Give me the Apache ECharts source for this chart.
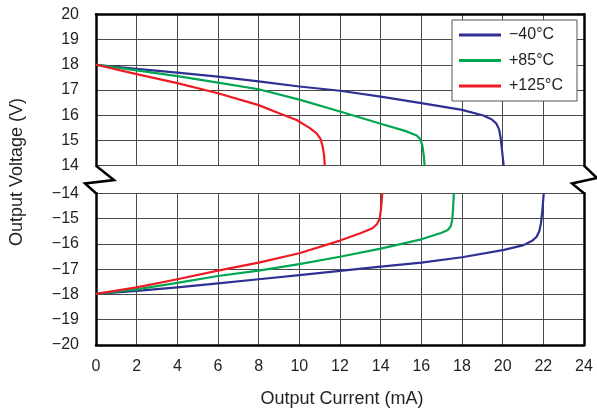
<!DOCTYPE html>
<html>
<head>
<meta charset="utf-8">
<script src="https://cdn.jsdelivr.net/npm/echarts@6/dist/echarts.min.js"></script>
<style>html,body{margin:0;padding:0;background:#fff}#c{width:597px;height:413px}</style>
</head>
<body>
<div id="c"></div>
<script>
// Series names (legend)
const seriesNames = ['\u221240\u00b0C', '+85\u00b0C', '+125\u00b0C'];
const seriesColors = ['#2e3192', '#00a651', '#ed1c24'];

// Positive output (top panel) : [current mA, voltage V]
const posM40 = [[0,18],[2,17.84],[4,17.69],[6,17.53],[8,17.34],[10,17.14],[12,16.97],[14,16.74],[16,16.48],[18,16.21],[19.05,15.99],[19.45,15.84],[19.68,15.68],[19.82,15.45],[19.9,15.1],[19.97,14.6],[20.05,14]];
const pos85  = [[0,18],[2,17.78],[4,17.55],[6,17.29],[8,17.03],[10,16.62],[12,16.15],[14,15.66],[15.2,15.38],[15.77,15.2],[15.95,15.05],[16.05,14.8],[16.12,14.4],[16.16,14]];
const pos125 = [[0,18],[2,17.63],[4,17.27],[6,16.87],[8,16.4],[9,16.08],[9.87,15.81],[10.5,15.5],[10.85,15.28],[11.05,15.05],[11.15,14.75],[11.22,14.4],[11.25,14]];

// Negative output (bottom panel)
const negM40 = [[0,-17.98],[2,-17.86],[4,-17.72],[6,-17.56],[8,-17.4],[10,-17.24],[12,-17.07],[14,-16.9],[16,-16.74],[18,-16.53],[20.07,-16.24],[21.03,-16.05],[21.45,-15.88],[21.67,-15.72],[21.8,-15.5],[21.88,-15.2],[21.95,-14.7],[22.02,-14]];
const neg85  = [[0,-17.98],[2,-17.8],[4,-17.54],[6,-17.27],[8,-17.06],[10,-16.8],[12,-16.51],[14,-16.19],[16,-15.82],[17,-15.56],[17.3,-15.45],[17.45,-15.3],[17.52,-15.05],[17.56,-14.6],[17.6,-14]];
const neg125 = [[0,-17.98],[2,-17.72],[4,-17.4],[6,-17.06],[8,-16.74],[10,-16.37],[12,-15.87],[13,-15.58],[13.6,-15.38],[13.82,-15.22],[13.95,-15.0],[14.02,-14.6],[14.08,-14]];

// Axis ranges
const xRange = [0, 24], xStep = 2;
const yTopRange = [14, 20], yBotRange = [-20, -14], yStep = 1;
const xTitle = 'Output Current (mA)';
const yTitle = 'Output Voltage (V)';

const L = 96, R = 13, T1 = 14.3, H1 = 151.4, T2 = 193.3, H2 = 151.7;
const font = 'Liberation Sans, Arial, Helvetica, sans-serif';
const frame = {show:true, lineStyle:{color:'#000', width:2.5}};
const split = {show:true, lineStyle:{color:'#4a4a4a', width:1}};
const lblFmt = v => String(v).replace('-', '\u2212');

function xAx(gi, pos, labels){
  return {type:'value', gridIndex:gi, position:pos, min:xRange[0], max:xRange[1], interval:xStep,
    axisLine:frame, axisTick:{show:false}, splitLine:split,
    axisLabel:{show:labels, fontSize:16, color:'#231f20', fontFamily:font, margin:14}};
}
function yAx(gi, pos, rng, labels, showSplit){
  return {type:'value', gridIndex:gi, position:pos, min:rng[0], max:rng[1], interval:yStep,
    axisLine:frame, axisTick:{show:false}, splitLine: showSplit ? split : {show:false},
    axisLabel:{show:labels, fontSize:16, color:'#231f20', fontFamily:font, margin:17, formatter:lblFmt}};
}
function ser(name, data, xi, yi, ci){
  return {type:'line', name:name, data:data, xAxisIndex:xi, yAxisIndex:yi, showSymbol:false,
    smooth:false, lineStyle:{color:seriesColors[ci], width:2.2, join:'round'}, itemStyle:{color:seriesColors[ci]}, z:5};
}

const chart = echarts.init(document.getElementById('c'), null, {renderer:'canvas'});
const brk = {stroke:'#000', lineWidth:2.5, fill:null, lineJoin:'miter'};
chart.setOption({
  animation:false,
  backgroundColor:'#fff',
  grid:[{left:L, right:R, top:T1, height:H1}, {left:L, right:R, top:T2, height:H2}],
  xAxis:[xAx(0,'top',false), xAx(1,'bottom',true)],
  yAxis:[yAx(0,'left',yTopRange,true,true), yAx(0,'right',yTopRange,false,false),
         yAx(1,'left',yBotRange,true,true), yAx(1,'right',yBotRange,false,false)],
  legend:{orient:'vertical', left:452, top:20, padding:[6,14,6,7], itemGap:7.5,
    itemWidth:42, itemHeight:3, icon:'rect', backgroundColor:'#fff', borderColor:'#555', borderWidth:1,
    data:seriesNames, textStyle:{fontSize:16, color:'#231f20', fontFamily:font, lineHeight:18, padding:[0,0,0,3]}},
  series:[
    ser(seriesNames[0], posM40, 0, 0, 0), ser(seriesNames[1], pos85, 0, 0, 1), ser(seriesNames[2], pos125, 0, 0, 2),
    ser(seriesNames[0], negM40, 1, 2, 0), ser(seriesNames[1], neg85, 1, 2, 1), ser(seriesNames[2], neg125, 1, 2, 2)
  ],
  graphic:[
    {type:'polyline', shape:{points:[[L,T1+H1],[L+18,180],[L-11,183.5],[L,T2]]}, style:brk, z:10},
    {type:'polyline', shape:{points:[[597-R,T1+H1],[597,178],[597-R-12,183.5],[597-R,T2]]}, style:brk, z:10},
    {type:'text', x:(L+597-R)/2+2, y:399, style:{text:xTitle, fill:'#231f20', font:'18px '+font, align:'center', verticalAlign:'middle'}},
    {type:'text', x:17, y:172, rotation:Math.PI/2, style:{text:yTitle, fill:'#231f20', font:'18px '+font, align:'center', verticalAlign:'middle'}}
  ]
});
</script>
</body>
</html>
